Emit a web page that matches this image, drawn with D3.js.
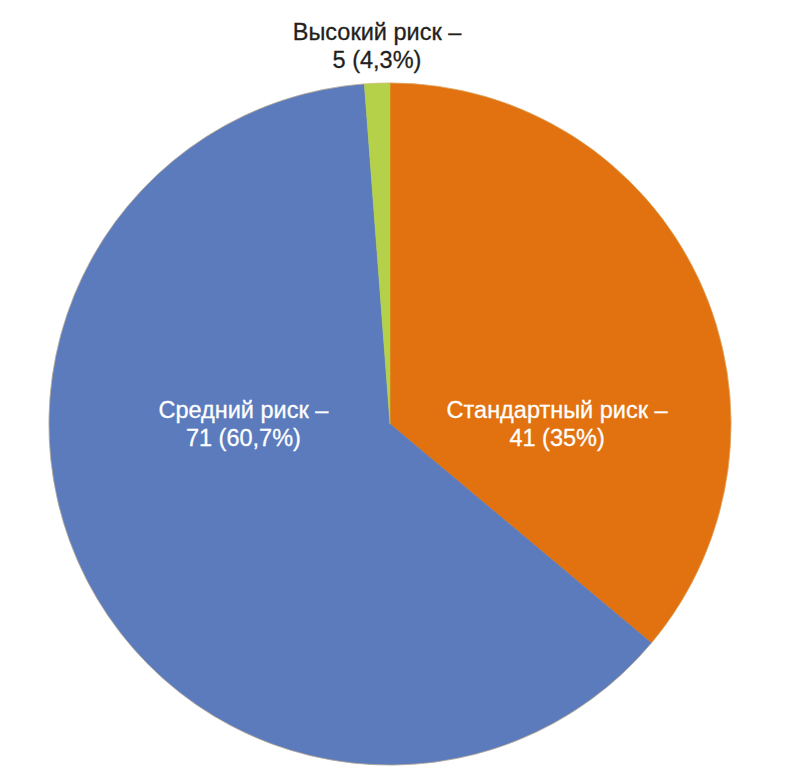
<!DOCTYPE html>
<html>
<head>
<meta charset="utf-8">
<script src="https://cdn.jsdelivr.net/npm/d3@7"></script>
<style>
  body { margin: 0; background: #fff; }
  svg text { font-family: "Liberation Sans", Arial, Helvetica, sans-serif; }
</style>
</head>
<body>
<div id="chart"></div>
<script>
// Categories and values as printed on the chart
const categories = ['Стандартный риск', 'Средний риск', 'Высокий риск'];
const counts = [41, 71, 5];
const percentLabels = ['35%', '60,7%', '4,3%'];
// Slice shares as drawn in the picture (percent of the circle)
const sliceShares = [36.1, 62.7, 1.2];
const colors = ['#e2720f', '#5b7bbd', '#b5d14a'];

const width = 787, height = 778;
const cx = 390, cy = 424, radius = 341;

const svg = d3.select('#chart')
    .append('svg')
    .attr('width', width)
    .attr('height', height);

const slices = categories.map((c, i) => ({
    name: c, count: counts[i], pct: percentLabels[i], share: sliceShares[i], color: colors[i]
}));

const pie = d3.pie()
    .value(d => d.share)
    .sort(null);

const arc = d3.arc()
    .innerRadius(0)
    .outerRadius(radius);

const g = svg.append('g')
    .attr('transform', `translate(${cx},${cy})`);

const arcs = pie(slices);

g.selectAll('path')
    .data(arcs)
    .join('path')
    .attr('d', arc)
    .attr('fill', d => d.data.color)
    .attr('stroke', d => d.data.color)
    .attr('stroke-width', 0.5);

// faint tan rim around the pie
g.append('circle')
    .attr('r', radius)
    .attr('fill', 'none')
    .attr('stroke', '#d8b57a')
    .attr('stroke-width', 0.8)
    .attr('opacity', 0.7);

// Label placement: inside labels on the horizontal through the centre, outside label above
const labelLayout = [
    { x: radius * 0.49, y: -6, fill: '#ffffff' },
    { x: -radius * 0.43, y: -6, fill: '#ffffff' },
    { x: -13, y: -radius - 43, fill: '#231f20' }
];

const labels = svg.append('g')
    .attr('transform', `translate(${cx},${cy})`)
    .selectAll('text')
    .data(arcs)
    .join('text')
    .attr('text-anchor', 'middle')
    .attr('font-size', 23.5)
    .attr('fill', (d, i) => labelLayout[i].fill)
    .attr('stroke', (d, i) => labelLayout[i].fill)
    .attr('stroke-width', 0.3)
    .attr('transform', (d, i) => `translate(${labelLayout[i].x},${labelLayout[i].y})`);

labels.append('tspan')
    .attr('x', 0)
    .attr('y', 0)
    .text(d => `${d.data.name} –`);

labels.append('tspan')
    .attr('x', 0)
    .attr('dy', 28)
    .text(d => `${d.data.count} (${d.data.pct})`);
</script>
</body>
</html>
